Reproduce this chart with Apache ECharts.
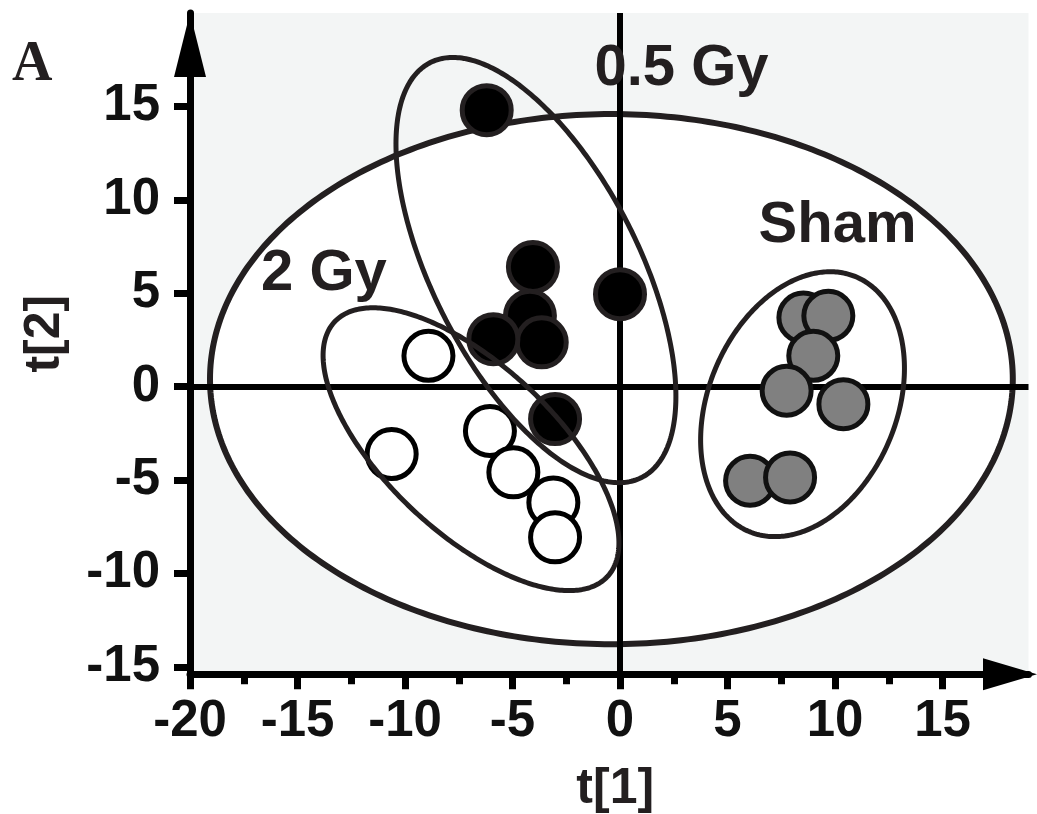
<!DOCTYPE html>
<html><head><meta charset="utf-8">
<script src="https://cdn.jsdelivr.net/npm/echarts@6/dist/echarts.min.js"></script>
<style>html,body{margin:0;padding:0;background:#fff}#c{width:1037px;height:814px}</style>
</head><body><div id="c"></div>
<script>
// ---- data ----
const shamPoints = [[8.53,3.70],[9.69,3.79],[8.99,1.65],[7.75,-0.22],[10.39,-0.94],[6.05,-5.04],[7.91,-4.86]];
const gy05Points = [[-6.2,14.8],[-4.05,6.4],[0.0,4.95],[-4.19,3.79],[-3.64,2.37],[-5.89,2.54],[-3.02,-1.74]];
const gy2Points = [[-8.91,1.65],[-10.62,-3.61],[-6.05,-2.37],[-4.96,-4.59],[-3.10,-6.20],[-3.02,-8.07]];
// ellipses: [centre x, centre y, half x-extent, half y-extent, tilt phase (deg)]
const modelEllipse = [[-0.40,0.40,18.67,14.19,0]];
const groupEllipses = [[-3.91,6.24,6.51,11.38,-36.4],[-6.93,-3.35,6.88,7.57,-41.5],[8.49,-0.94,4.74,7.09,15.7]];
const groupNames = ['0.5 Gy','2 Gy','Sham'];
const groupLabelAt = [[2.86,17.0],[-13.77,6.02],[10.12,8.59]];
const xTicks = [-20,-15,-10,-5,0,5,10,15];
const yTicks = [-15,-10,-5,0,5,10,15];
const yMinorTicks = [-12.5,-7.5,-2.5,2.5,7.5,12.5];
const xRange = [-20,19];
const yRange = [-15.4,20];

const INK = '#231f20';
const LABEL_FONT = {fontFamily:'Liberation Sans, Arial, sans-serif', fontWeight:'bold', fontSize:51, color:'#111'};

function ellipseRender(fill, lw){
  return function(params, api){
    const cx = api.value(0), cy = api.value(1), a = api.value(2), b = api.value(3), psi = api.value(4)*Math.PI/180;
    const pts = [];
    for (let i=0;i<360;i++){
      const t = i*Math.PI/180;
      pts.push(api.coord([cx + a*Math.cos(t), cy + b*Math.sin(t+psi)]));
    }
    return {type:'polygon', shape:{points:pts}, style:{fill:fill, stroke:INK, lineWidth:lw}};
  };
}

function labelRender(params, api){
  const p = api.coord([api.value(0), api.value(1)]);
  return {type:'text', x:p[0], y:p[1], style:{
    text: groupNames[params.dataIndex], align:'center', verticalAlign:'middle',
    font:'bold 58px "Liberation Sans", Arial, sans-serif', fill:INK, opacity:1}};
}

const chart = echarts.init(document.getElementById('c'), null, {renderer:'canvas'});
const tickStyle = {color:'#000', width:7};
chart.setOption({
  animation:false,
  backgroundColor:'#fff',
  title:{text:'A', left:12, top:38, padding:0, textStyle:{fontFamily:'Liberation Serif, Times New Roman, serif', fontWeight:'bold', fontSize:56, color:INK}},
  grid:{left:190, right:8.5, top:13, bottom:139.7, show:true, backgroundColor:'#f3f5f5', borderWidth:0, containLabel:false, outerBoundsMode:'none'},
  xAxis:{
    type:'value', min:xRange[0], max:xRange[1], interval:5,
    axisLine:{show:true, onZero:false, symbol:['none','triangle'], symbolSize:[32,54], symbolOffset:[0,-18.5], lineStyle:{color:'#000', width:7}},
    axisTick:{show:true, length:15, customValues:xTicks, lineStyle:tickStyle},
    minorTick:{show:true, splitNumber:2, length:10, lineStyle:tickStyle},
    axisLabel:Object.assign({margin:22, customValues:xTicks}, LABEL_FONT),
    splitLine:{show:false}, minorSplitLine:{show:false},
    name:'t[1]', nameLocation:'middle', nameGap:90,
    nameTextStyle:Object.assign({}, LABEL_FONT, {fontSize:50, color:INK, padding:[0,0,0,12]})
  },
  yAxis:[{
    type:'value', min:yRange[0], max:yRange[1], position:'left',
    axisLine:{show:true, onZero:false, symbol:['none','triangle'], symbolSize:[32,64], symbolOffset:[0,-32], lineStyle:{color:'#000', width:7}},
    axisTick:{show:true, length:16, customValues:yTicks, lineStyle:tickStyle},
    axisLabel:Object.assign({margin:30, customValues:yTicks}, LABEL_FONT),
    splitLine:{show:false},
    name:'t[2]', nameLocation:'middle', nameGap:120,
    nameTextStyle:Object.assign({}, LABEL_FONT, {fontSize:50, color:INK, padding:[0,0,0,20]})
  },{
    type:'value', min:yRange[0], max:yRange[1], position:'left',
    axisLine:{show:false}, axisLabel:{show:false}, splitLine:{show:false},
    axisTick:{show:true, length:11, customValues:yMinorTicks, lineStyle:tickStyle}
  }],
  series:[
    {type:'custom', z:1, silent:true, data:modelEllipse, renderItem:ellipseRender('#ffffff',6),
     markLine:{z:2, silent:true, symbol:['none','none'], label:{show:false},
       lineStyle:{color:'#000', width:6, type:'solid'},
       emphasis:{disabled:true},
       data:[{xAxis:0},{yAxis:0}]}},
    {type:'scatter', name:'0.5 Gy', z:3, data:gy05Points, symbolSize:49, silent:true,
     itemStyle:{color:'#000', borderColor:INK, borderWidth:5, opacity:1}},
    {type:'scatter', name:'2 Gy', z:3, data:gy2Points, symbolSize:49, silent:true,
     itemStyle:{color:'#fff', borderColor:'#000', borderWidth:5, opacity:1}},
    {type:'scatter', name:'Sham', z:3, data:shamPoints, symbolSize:49, silent:true,
     itemStyle:{color:'#808080', borderColor:'#111', borderWidth:5, opacity:1}},
    {type:'custom', z:4, silent:true, data:groupEllipses, renderItem:ellipseRender('none',5)},
    {type:'custom', z:5, silent:true, data:groupLabelAt, renderItem:labelRender}
  ]
});
</script></body></html>
